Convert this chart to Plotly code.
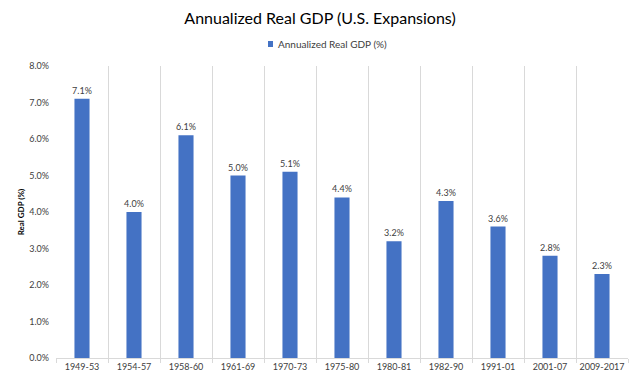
import plotly.graph_objects as go

categories = ["1949-53", "1954-57", "1958-60", "1961-69", "1970-73", "1975-80",
              "1980-81", "1982-90", "1991-01", "2001-07", "2009-2017"]
gdp_pct = [7.1, 4.0, 6.1, 5.0, 5.1, 4.4, 3.2, 4.3, 3.6, 2.8, 2.3]
series_name = "Annualized Real GDP (%)"

values = [v / 100 for v in gdp_pct]
labels = [f"{v:.1f}%" for v in gdp_pct]

FONT = "Lato"
fig = go.Figure()
fig.add_trace(go.Bar(
    x=categories, y=values, name=series_name, showlegend=False,
    marker=dict(color="#4472C4", line=dict(width=0)),
    text=labels, textposition="outside", cliponaxis=False, constraintext="none",
    textfont=dict(family=FONT, size=9, color="#404040"),
))
# manual legend (small square + label)
fig.add_shape(type="rect", xref="paper", yref="paper",
              x0=0.3706, x1=0.3794, y0=1.065, y1=1.0856,
              fillcolor="#4472C4", line=dict(width=0))
fig.add_annotation(text=series_name, xref="paper", yref="paper",
                   x=0.3846, y=1.0753, xanchor="left", yanchor="middle", showarrow=False,
                   font=dict(family=FONT, size=10, color="#404040"))
fig.update_layout(
    width=640, height=384,
    margin=dict(l=56, r=12, t=66, b=26),
    paper_bgcolor="white", plot_bgcolor="white",
    bargap=0.71,
    title=dict(text="Annualized Real GDP (U.S. Expansions)", x=0.5, xanchor="center",
               y=0.953, yanchor="middle",
               font=dict(family=FONT, size=16, color="#000000")),
    showlegend=False,
    xaxis=dict(type="category", tickson="boundaries", showgrid=True, automargin=False,
               gridcolor="#D9D9D9", gridwidth=1, showline=True, linecolor="#D9D9D9",
               ticks="outside", ticklen=4, tickcolor="#D9D9D9", tickangle=0,
               tickfont=dict(family=FONT, size=9, color="#404040")),
    yaxis=dict(range=[0, 0.08], dtick=0.01, tickformat=".1%", showgrid=False,
               zeroline=False, showline=False, ticks="", automargin=False,
               ticklabelstandoff=6,
               tickfont=dict(family=FONT, size=9, color="#404040"),
               title=dict(text="<b>Real GDP (%)</b>", standoff=3,
                          font=dict(family=FONT, size=8, color="#000000"))),
)
fig.write_html("out.html", config={"displayModeBar": False},
               post_script="document.body.style.margin='0';")
